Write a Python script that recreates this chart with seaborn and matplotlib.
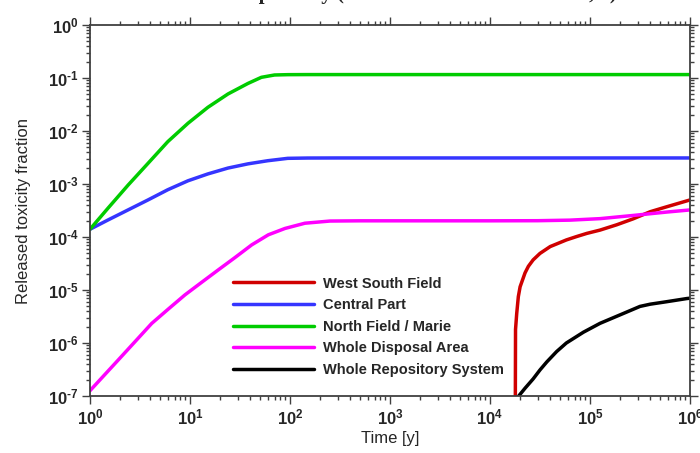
import numpy as np
import pandas as pd
import matplotlib
matplotlib.use("Agg")
import matplotlib.pyplot as plt
import matplotlib.ticker as mticker
import seaborn as sns

# ── Data ──────────────────────────────────────────────────────────────────────
SERIES = ["West South Field", "Central Part", "North Field / Marie",
          "Whole Disposal Area", "Whole Repository System"]
COLORS = ["#d00000", "#3535ff", "#00cc00", "#ff00ff", "#000000"]

t_west = [1.78e4, 1.80e4, 1.85e4, 1.92e4, 2.0e4, 2.24e4, 2.42e4, 2.7e4,
          3.16e4, 4.0e4, 4.64e4, 5.8e4, 7.35e4, 9.3e4, 1.26e5, 1.85e5,
          2.7e5, 4.0e5, 5.8e5, 1.0e6]
v_west = [1e-9, 1.8e-6, 3.6e-6, 7.5e-6, 1.15e-5, 2.1e-5, 2.8e-5, 3.7e-5,
          4.9e-5, 6.6e-5, 7.4e-5, 8.8e-5, 1.02e-4, 1.17e-4, 1.35e-4, 1.7e-4,
          2.2e-4, 3.0e-4, 3.7e-4, 5.0e-4]

t_central = [1, 1.51, 2.4, 3.8, 6.0, 9.55, 15.1, 24, 38, 60, 95, 150, 300,
             1e3, 1e4, 1e5, 1e6]
v_central = [1.40e-4, 2.09e-4, 3.24e-4, 5.0e-4, 7.8e-4, 1.15e-3, 1.55e-3,
             2.0e-3, 2.4e-3, 2.75e-3, 3.05e-3, 3.09e-3, 3.1e-3, 3.1e-3,
             3.1e-3, 3.1e-3, 3.1e-3]

t_north = [1, 1.51, 2.4, 3.8, 6.0, 9.55, 15.1, 24, 38, 51.7, 70, 95, 150,
           1e3, 1e4, 1e5, 1e6]
v_north = [1.40e-4, 3.48e-4, 9.5e-4, 2.45e-3, 6.3e-3, 1.40e-2, 2.8e-2,
           5.0e-2, 7.9e-2, 0.103, 0.114, 0.1156, 0.116, 0.116, 0.116,
           0.116, 0.116]

t_disposal = [1, 1.92, 2.82, 4.14, 6.07, 8.91, 13.1, 19.2, 28.2, 41.4, 60.7,
              89.1, 141, 251, 501, 1e3, 1e4, 3e4, 6.3e4, 1.26e5, 2.7e5,
              5.9e5, 1e6]
v_disposal = [1.26e-7, 4.8e-7, 1.06e-6, 2.34e-6, 4.37e-6, 8.1e-6, 1.4e-5,
              2.4e-5, 4.1e-5, 7.1e-5, 1.1e-4, 1.45e-4, 1.82e-4, 2.0e-4,
              2.02e-4, 2.02e-4, 2.02e-4, 2.03e-4, 2.08e-4, 2.22e-4, 2.55e-4,
              2.96e-4, 3.24e-4]

t_system = [1.85e4, 2.24e4, 2.7e4, 3.16e4, 3.7e4, 4.64e4, 5.8e4, 8.6e4,
            1.26e5, 2.15e5, 3.16e5, 4.0e5, 5.8e5, 9.3e5, 1e6]
v_system = [9e-8, 1.4e-7, 2.1e-7, 3.1e-7, 4.4e-7, 6.9e-7, 1.0e-6, 1.6e-6,
            2.35e-6, 3.6e-6, 4.9e-6, 5.4e-6, 6.0e-6, 6.9e-6, 7.0e-6]

X_TICKS = [1e0, 1e1, 1e2, 1e3, 1e4, 1e5, 1e6]
Y_TICKS = [1e-7, 1e-6, 1e-5, 1e-4, 1e-3, 1e-2, 1e-1, 1e0]

# ── Long-form table for seaborn ───────────────────────────────────────────────
parts = []
for name, t, v in zip(SERIES,
                      [t_west, t_central, t_north, t_disposal, t_system],
                      [v_west, v_central, v_north, v_disposal, v_system]):
    parts.append(pd.DataFrame({"Time": t, "Fraction": v, "Series": name}))
df = pd.concat(parts, ignore_index=True)

sns.set_theme(style="ticks")
plt.rcParams["font.family"] = ["Liberation Sans", "DejaVu Sans"]
plt.rcParams["mathtext.fontset"] = "custom"
plt.rcParams["mathtext.bf"] = "Liberation Sans:bold"
plt.rcParams["mathtext.rm"] = "Liberation Sans:bold"

fig = plt.figure(figsize=(7.0, 4.53), dpi=100)
ax = fig.add_axes([90 / 700, 1 - 396 / 453, 600 / 700, 371 / 453])

sns.lineplot(data=df, x="Time", y="Fraction", hue="Series",
             hue_order=SERIES, palette=dict(zip(SERIES, COLORS)),
             sort=False, estimator=None, linewidth=2.5, ax=ax)

ax.set_xscale("log")
ax.set_yscale("log")
ax.set_xlim(X_TICKS[0], X_TICKS[-1])
ax.set_ylim(Y_TICKS[0], Y_TICKS[-1])


def _pow10(v, _):
    """Decade tick label with a short hyphen, as in the reference."""
    e = round(np.log10(v))
    sign = r"\text{-}" if e < 0 else ""
    return r"$\mathbf{10^{%s%d}}$" % (sign, abs(e))


fmt = mticker.FuncFormatter(_pow10)
ax.xaxis.set_major_locator(mticker.FixedLocator(X_TICKS))
ax.yaxis.set_major_locator(mticker.FixedLocator(Y_TICKS))
ax.xaxis.set_minor_locator(mticker.LogLocator(base=10, subs=np.arange(2, 10), numticks=20))
ax.yaxis.set_minor_locator(mticker.LogLocator(base=10, subs=np.arange(2, 10), numticks=20))
ax.xaxis.set_minor_formatter(mticker.NullFormatter())
ax.yaxis.set_minor_formatter(mticker.NullFormatter())
ax.xaxis.set_major_formatter(fmt)
ax.yaxis.set_major_formatter(fmt)

for side in ["top", "bottom", "left", "right"]:
    ax.spines[side].set_visible(True)
    ax.spines[side].set_color("#404040")
    ax.spines[side].set_linewidth(1.3)
ax.tick_params(which="both", direction="out", top=True, right=True,
               color="#404040", width=1.0, labelsize=12, pad=2)
ax.tick_params(which="major", length=6)
ax.tick_params(which="minor", length=3)

ax.set_xlabel("Time [y]", fontsize=12, labelpad=3)
ax.set_ylabel("Released toxicity fraction", fontsize=12, labelpad=12)

leg = ax.legend(loc="upper left", bbox_to_anchor=(0.238, 0.322), frameon=False,
                handlelength=5.6, handletextpad=0.6, labelspacing=0.52,
                borderpad=0, borderaxespad=0,
                prop={"weight": "bold", "size": 10.5})
for line in leg.get_lines():
    line.set_linewidth(2.5)

# title sits almost entirely above the canvas, as in the reference
fig.text(0.563, 1 + 1 / 453, "Whole Repository (Reference Case Calculation, 1)",
         ha="center", va="baseline", fontsize=15, fontweight="bold",
         family=["Liberation Serif", "DejaVu Serif"])

fig.savefig("out.png", dpi=100)
